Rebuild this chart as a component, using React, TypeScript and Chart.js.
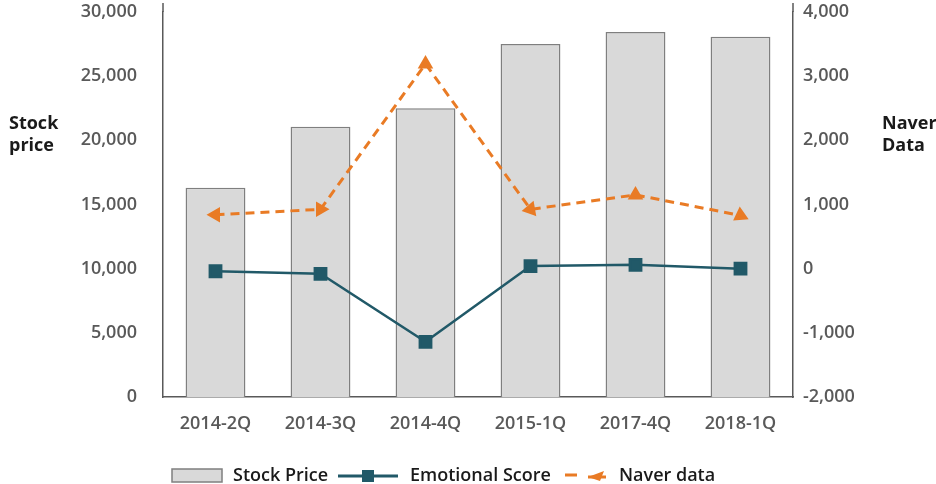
import React, { useEffect, useRef } from "react";
import { Chart, registerables } from "chart.js";

Chart.register(...registerables);

// Quarterly figures
const quarters = ["2014-2Q", "2014-3Q", "2014-4Q", "2015-1Q", "2017-4Q", "2018-1Q"];
const stockPrice = [16300, 21050, 22500, 27500, 28450, 28080];
const emotionalScore = [-40, -80, -1140, 40, 60, 0];
const naverData = [840, 925, 3190, 925, 1150, 830];

// Axis ranges and tick spacing
const priceTicks = { min: 0, max: 30000, step: 5000 };
const naverTicks = { min: -2000, max: 4000, step: 1000 };

// Direction of each Naver marker (degrees, clockwise from pointing up)
const naverMarkerRotation = [-90, 90, 0, 140, 0, 115];

const FONT = "'Open Sans', 'Noto Sans', sans-serif";
const TICK_COLOR = "#595959";
const AXIS_COLOR = "#595959";
const BAR_FILL = "#d9d9d9";
const BAR_EDGE = "#7f7f7f";
const TEAL = "#215968";
const ORANGE = "#e97b25";
const TEXT_DARK = "#1a1a1a";

const fmt = (v: number) => Number(v).toLocaleString("en-US");

// Side titles, axis-line caps and the bottom legend
const decorations = {
  id: "decorations",
  afterDraw(chart: any) {
    const ctx = chart.ctx as CanvasRenderingContext2D;
    const area = chart.chartArea;
    ctx.save();

    // both value axes run a little past their top tick
    ctx.strokeStyle = AXIS_COLOR;
    ctx.lineWidth = 1.5;
    ctx.beginPath();
    ctx.moveTo(area.left, area.top);
    ctx.lineTo(area.left, area.top - 9);
    ctx.moveTo(area.right, area.top);
    ctx.lineTo(area.right, area.top - 9);
    ctx.stroke();

    ctx.fillStyle = TEXT_DARK;
    ctx.font = `700 18px ${FONT}`;
    ctx.textBaseline = "middle";
    ctx.textAlign = "left";
    ctx.fillText("Stock", 9, 124);
    ctx.fillText("price", 9, 146);
    ctx.fillText("Naver", 882, 124);
    ctx.fillText("Data", 882, 146);

    const ly = 476;
    ctx.font = `600 18px ${FONT}`;

    // Stock Price swatch
    ctx.fillStyle = BAR_FILL;
    ctx.strokeStyle = BAR_EDGE;
    ctx.lineWidth = 1.5;
    ctx.fillRect(172, 469, 50, 13);
    ctx.strokeRect(172, 469, 50, 13);
    ctx.fillStyle = TEXT_DARK;
    ctx.fillText("Stock Price", 233, ly);

    // Emotional Score swatch
    ctx.strokeStyle = TEAL;
    ctx.lineWidth = 3;
    ctx.beginPath();
    ctx.moveTo(338, ly);
    ctx.lineTo(398, ly);
    ctx.stroke();
    ctx.fillStyle = TEAL;
    ctx.fillRect(368 - 6, ly - 6, 12, 12);
    ctx.fillStyle = TEXT_DARK;
    ctx.fillText("Emotional Score", 410, ly);

    // Naver data swatch
    ctx.strokeStyle = ORANGE;
    ctx.lineWidth = 3;
    ctx.beginPath();
    ctx.moveTo(565, ly - 1);
    ctx.lineTo(577, ly - 1);
    ctx.stroke();
    ctx.fillStyle = ORANGE;
    ctx.beginPath();
    ctx.moveTo(588, ly + 1);
    ctx.lineTo(604, ly - 5);
    ctx.lineTo(600, ly + 5);
    ctx.closePath();
    ctx.fill();
    ctx.beginPath();
    ctx.moveTo(588, ly + 1);
    ctx.lineTo(606, ly + 1);
    ctx.stroke();
    ctx.fillStyle = TEXT_DARK;
    ctx.fillText("Naver data", 619, ly);
    ctx.restore();
  },
};

export default function App() {
  const canvasRef = useRef<HTMLCanvasElement>(null);

  useEffect(() => {
    if (!canvasRef.current) return;
    const tickFont = { family: FONT, size: 18, weight: 600 as any };
    const noOverflow = (s: any) => {
      s.paddingTop = 0;
      s.paddingBottom = 0;
    };
    const chart = new Chart(canvasRef.current, {
      type: "bar",
      data: {
        labels: quarters,
        datasets: [
          {
            type: "line",
            label: "Naver data",
            data: naverData,
            yAxisID: "y1",
            borderColor: ORANGE,
            backgroundColor: ORANGE,
            borderWidth: 3,
            borderDash: [9, 6],
            pointStyle: "triangle",
            pointRadius: 6,
            pointRotation: naverMarkerRotation,
            tension: 0,
            order: 1,
          } as any,
          {
            type: "line",
            label: "Emotional Score",
            data: emotionalScore,
            yAxisID: "y1",
            borderColor: TEAL,
            backgroundColor: TEAL,
            borderWidth: 2.5,
            pointStyle: "rect",
            pointRadius: 8,
            tension: 0,
            order: 2,
          } as any,
          {
            type: "bar",
            label: "Stock Price",
            data: stockPrice,
            yAxisID: "y",
            backgroundColor: BAR_FILL,
            borderColor: BAR_EDGE,
            borderWidth: 1.5,
            categoryPercentage: 1,
            barPercentage: 0.57,
            order: 3,
          } as any,
        ],
      },
      options: {
        animation: false,
        responsive: false,
        maintainAspectRatio: false,
        layout: { padding: { top: 12, left: 0, right: 0, bottom: 0 } },
        plugins: {
          legend: { display: false },
          tooltip: { enabled: false },
          title: { display: false },
        },
        scales: {
          x: {
            grid: { display: false, drawTicks: false },
            border: { display: true, color: AXIS_COLOR, width: 1.5 },
            ticks: { font: tickFont, color: TICK_COLOR, padding: 16 },
            afterFit: (s: any) => {
              s.height = 87;
              s.paddingLeft = 0;
              s.paddingRight = 0;
            },
          },
          y: {
            position: "left",
            min: priceTicks.min,
            max: priceTicks.max,
            grid: { display: false, drawTicks: false },
            border: { display: true, color: AXIS_COLOR, width: 1.5 },
            ticks: {
              stepSize: priceTicks.step,
              font: tickFont,
              color: TICK_COLOR,
              padding: 26,
              callback: (v: any) => fmt(v),
            },
            afterFit: (s: any) => {
              s.width = 163;
              noOverflow(s);
            },
          },
          y1: {
            position: "right",
            min: naverTicks.min,
            max: naverTicks.max,
            grid: { display: false, drawTicks: false },
            border: { display: true, color: AXIS_COLOR, width: 1.5 },
            ticks: {
              stepSize: naverTicks.step,
              font: tickFont,
              color: TICK_COLOR,
              padding: 10,
              callback: (v: any) => fmt(v),
            },
            afterFit: (s: any) => {
              s.width = 143;
              noOverflow(s);
            },
          },
        },
      },
      plugins: [decorations],
    });
    return () => chart.destroy();
  }, []);

  return (
    <div style={{ position: "fixed", left: 0, top: 0, width: 936, height: 484, background: "#fff" }}>
      <canvas ref={canvasRef} width={936} height={484} style={{ display: "block" }} />
    </div>
  );
}
